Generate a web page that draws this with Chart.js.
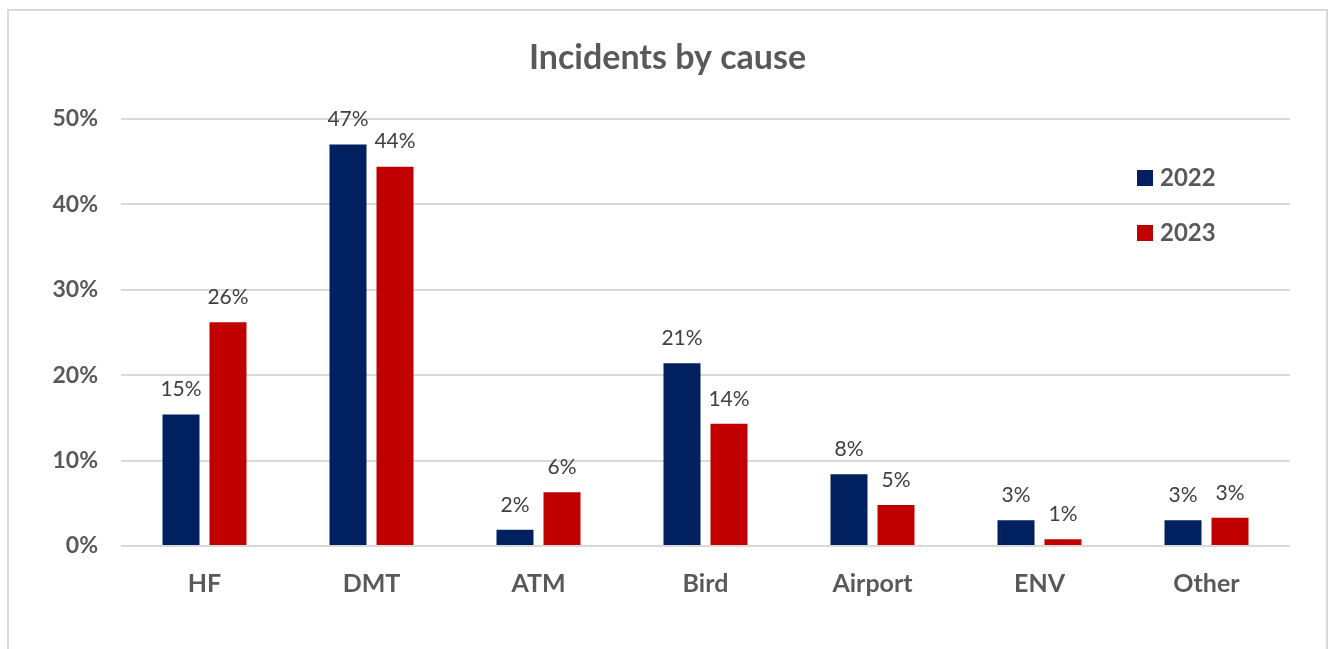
<!DOCTYPE html>
<html>
<head>
<meta charset="utf-8">
<script src="https://cdn.jsdelivr.net/npm/chart.js@4.4.1/dist/chart.umd.min.js"></script>
<style>
  html, body { margin: 0; padding: 0; background: #fff; overflow: hidden; }
  #frame {
    position: absolute; left: 7px; top: 9px; width: 1321px; height: 700px;
    border: 2px solid #d9d9d9; box-sizing: border-box;
  }
  canvas { position: absolute; left: 0; top: 0; }
</style>
</head>
<body>
<div id="frame"></div>
<canvas id="chart" width="1335" height="649"></canvas>
<script>
// Share of incidents per cause, in percent
const categories = ["HF", "DMT", "ATM", "Bird", "Airport", "ENV", "Other"];
const share2022 = [15.4, 47.0, 1.9, 21.4, 8.4, 3.0, 3.0];
const share2023 = [26.2, 44.4, 6.3, 14.3, 4.8, 0.8, 3.3];
const seriesNames = ["2022", "2023"];
const yTicks = [0, 10, 20, 30, 40, 50];

const NAVY = "#002060";
const RED = "#C00000";
const GREY = "#595959";
const FONT = "Lato, 'Open Sans', sans-serif";

// value labels above each bar
const barLabels = {
    id: "barLabels",
    afterDatasetsDraw(chart) {
        const ctx = chart.ctx;
        ctx.save();
        ctx.font = "400 21px " + FONT;
        ctx.fillStyle = "#404040";
        ctx.textAlign = "center";
        ctx.textBaseline = "middle";
        chart.data.datasets.forEach((ds, i) => {
            chart.getDatasetMeta(i).data.forEach((bar, j) => {
                ctx.fillText(Math.round(ds.data[j]) + "%", bar.x, bar.y - 25);
            });
        });
        ctx.restore();
    },
};

// vertical legend sitting inside the plot on the right
const sideLegend = {
    id: "sideLegend",
    afterDraw(chart) {
        const ctx = chart.ctx;
        ctx.save();
        ctx.font = "700 24px " + FONT;
        ctx.textBaseline = "middle";
        ctx.textAlign = "left";
        chart.data.datasets.forEach((ds, i) => {
            const y = 178 + i * 55;
            ctx.fillStyle = ds.backgroundColor;
            ctx.fillRect(1137, y - 8, 16, 16);
            ctx.fillStyle = GREY;
            ctx.fillText(ds.label, 1160, y);
        });
        ctx.restore();
    },
};

new Chart(document.getElementById("chart"), {
    type: "bar",
    data: {
        labels: categories,
        datasets: [
            { label: seriesNames[0], data: share2022, backgroundColor: NAVY },
            { label: seriesNames[1], data: share2023, backgroundColor: RED },
        ],
    },
    options: {
        responsive: false,
        animation: false,
        layout: { padding: { left: 45, right: 45, top: 0, bottom: 0 } },
        datasets: {
            bar: { categoryPercentage: 0.563, barPercentage: 0.787 },
        },
        plugins: {
            legend: { display: false },
            tooltip: { enabled: false },
            title: {
                display: true,
                text: "Incidents by cause",
                color: GREY,
                font: { family: FONT, size: 34, weight: "bold", lineHeight: 1.2 },
                padding: { top: 38, bottom: 40 },
            },
        },
        scales: {
            x: {
                grid: { display: false },
                border: { display: false },
                ticks: {
                    color: GREY,
                    padding: 15,
                    font: { family: FONT, size: 25, weight: "bold" },
                },
                afterFit: (s) => { s.height = 103; },
            },
            y: {
                min: 0,
                max: 50,
                afterBuildTicks: (s) => { s.ticks = yTicks.map((v) => ({ value: v })); },
                grid: { color: "#d9d9d9", lineWidth: 2, drawTicks: false },
                border: { display: false },
                ticks: {
                    color: GREY,
                    padding: 23,
                    font: { family: FONT, size: 23, weight: "bold" },
                    callback: (v) => v + "%",
                },
                afterFit: (s) => { s.width = 76; },
            },
        },
    },
    plugins: [barLabels, sideLegend],
});
</script>
</body>
</html>
